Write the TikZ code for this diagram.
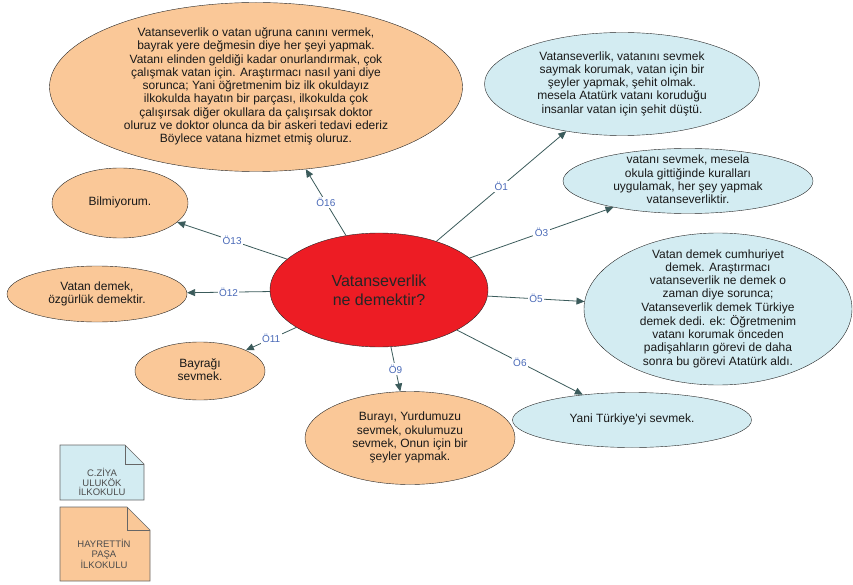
\documentclass[tikz,border=0pt]{standalone}
\usepackage{fontspec}
\setmainfont{Liberation Sans}
\usetikzlibrary{shapes.geometric,arrows.meta}
\definecolor{turuncu}{HTML}{FAC898}
\definecolor{acikmavi}{HTML}{D3ECF2}
\definecolor{kirmizi}{HTML}{ED1C24}
\definecolor{kenar}{HTML}{3B5B5B}
\definecolor{etiketmavi}{HTML}{4A6AB8}
\newcommand{\cevap}[1]{\smash{\raisebox{-3pt}{\begin{tabular}{@{}c@{}}#1\end{tabular}}}}

\begin{document}
\begin{tikzpicture}
    [
        x=1pt, y=-1pt,
        soru/.style={ellipse, draw=black!85, fill=kirmizi, minimum width=218pt, minimum height=114pt,
            align=center, text=black!85, font=\fontsize{16}{19}\selectfont},
        cevapbalon/.style={ellipse, draw=black!85, inner sep=0pt, text=black!90,
            font=\fontsize{12}{13.3}\selectfont},
        turuncucevap/.style={cevapbalon, fill=turuncu},
        mavicevap/.style={cevapbalon, fill=acikmavi},
        baglanti/.style={draw=kenar, line width=0.8pt, -{Triangle[length=8pt,width=7pt]}},
        etiket/.style={fill=white, text=etiketmavi, inner sep=1.5pt, font=\fontsize{10}{11}\selectfont},
        okulnotu/.style={align=center, text=black!70, font=\fontsize{9.5}{9.4}\selectfont},
    ]
    \useasboundingbox (0,0) rectangle (853,585);
    % merkez
    \node[soru] (soru) at (379,290) {Vatanseverlik\\ne demektir?};
    % cevaplar
    \node[turuncucevap, minimum width=413pt, minimum height=169pt] (o16) at (256,87)
        {\cevap{Vatanseverlik o vatan uğruna canını vermek,\\
        bayrak yere değmesin diye her şeyi yapmak.\\
        Vatanı elinden geldiği kadar onurlandırmak, çok\\
        çalışmak vatan için. Araştırmacı nasıl yani diye\\
        sorunca; Yani öğretmenim biz ilk okuldayız\\
        ilkokulda hayatın bir parçası, ilkokulda çok\\
        çalışırsak diğer okullara da çalışırsak doktor\\
        oluruz ve doktor olunca da bir askeri tedavi ederiz\\
        Böylece vatana hizmet etmiş oluruz.}};
    \node[mavicevap, minimum width=275pt, minimum height=103pt] (o1) at (622,84)
        {\cevap{Vatanseverlik, vatanını sevmek\\
        saymak korumak, vatan için bir\\
        şeyler yapmak, şehit olmak.\\
        mesela Atatürk vatanı koruduğu\\
        insanlar vatan için şehit düştü.}};
    \node[mavicevap, minimum width=250pt, minimum height=65pt] (o3) at (688,181)
        {\cevap{vatanı sevmek, mesela\\
        okula gittiğinde kuralları\\
        uygulamak, her şey yapmak\\
        vatanseverliktir.}};
    \node[mavicevap, minimum width=268pt, minimum height=152pt] (o5) at (718,309)
        {\cevap{Vatan demek cumhuriyet\\
        demek. Araştırmacı\\
        vatanseverlik ne demek o\\
        zaman diye sorunca;\\
        Vatanseverlik demek Türkiye\\
        demek dedi. ek: Öğretmenim\\
        vatanı korumak önceden\\
        padişahların görevi de daha\\
        sonra bu görevi Atatürk aldı.}};
    \node[mavicevap, minimum width=239pt, minimum height=55pt] (o6) at (632,420)
        {\cevap{Yani Türkiye\textquotesingle yi sevmek.}};
    \node[turuncucevap, minimum width=210pt, minimum height=93pt] (o9) at (410,438)
        {\cevap{Burayı, Yurdumuzu\\
        sevmek, okulumuzu\\
        sevmek, Onun için bir\\
        şeyler yapmak.}};
    \node[turuncucevap, minimum width=130pt, minimum height=58pt] (o11) at (200,371)
        {\cevap{Bayrağı\\sevmek.}};
    \node[turuncucevap, minimum width=180pt, minimum height=56pt] (o12) at (97,294)
        {\cevap{Vatan demek,\\özgürlük demektir.}};
    \node[turuncucevap, minimum width=136pt, minimum height=70pt] (o13) at (120,203)
        {\cevap{Bilmiyorum.}};
    % bağlantılar
    \draw[baglanti] (soru) -- node[etiket] {Ö16} (o16);
    \draw[baglanti] (soru) -- node[etiket] {Ö1} (o1);
    \draw[baglanti] (soru) -- node[etiket] {Ö3} (o3);
    \draw[baglanti] (soru) -- node[etiket] {Ö5} (o5);
    \draw[baglanti] (soru) -- node[etiket] {Ö6} (o6);
    \draw[baglanti] (soru) -- node[etiket] {Ö9} (o9);
    \draw[baglanti] (soru) -- node[etiket] {Ö11} (o11);
    \draw[baglanti] (soru) -- node[etiket] {Ö12} (o12);
    \draw[baglanti] (soru) -- node[etiket] {Ö13} (o13);
    % okullar
    \filldraw[fill=acikmavi, draw=black!60, line width=0.6pt]
        (60,445) -- (125,445) -- (144,464) -- (144,500) -- (60,500) -- cycle;
    \draw[black!60, line width=0.6pt] (125,445) -- (125,464) -- (144,464);
    \node[okulnotu] (okul1) at (102,482) {C.ZİYA\\ULUKÖK\\İLKOKULU};
    \filldraw[fill=turuncu, draw=black!60, line width=0.6pt]
        (60,507) -- (127,507) -- (150,530) -- (150,581) -- (60,581) -- cycle;
    \draw[black!60, line width=0.6pt] (127,507) -- (127,530) -- (150,530);
    \node[okulnotu] (okul2) at (104,554) {HAYRETTİN\\PAŞA\\İLKOKULU};
\end{tikzpicture}
\end{document}
